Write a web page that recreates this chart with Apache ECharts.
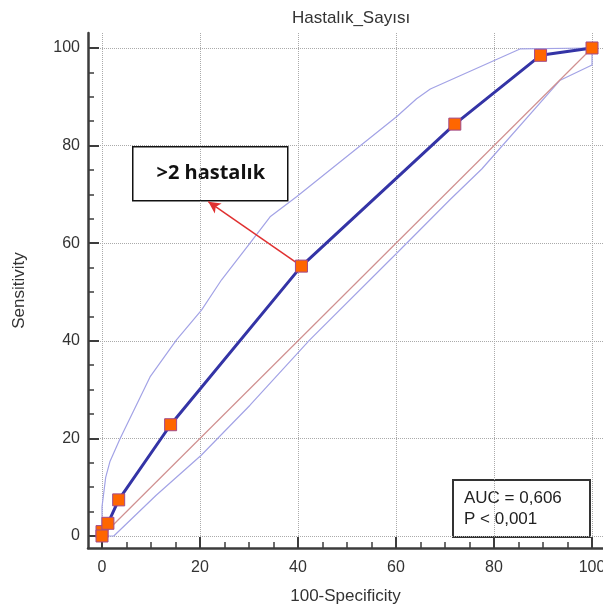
<!DOCTYPE html>
<html lang="tr">
<head>
    <meta charset="UTF-8">
    <title>Hastalık_Sayısı ROC</title>
    <script src="https://cdn.jsdelivr.net/npm/echarts@6/dist/echarts.min.js"></script>
    <style>
        html, body { margin: 0; padding: 0; background: #fff; }
    </style>
</head>
<body>
<div id="main" style="width: 603px;height:610px;"></div>
<script type="text/javascript">
    // ROC noktalari [100-Specificity, Sensitivity]
    var rocPoints = [[0, 0.9], [0, 0], [1.2, 2.6], [3.4, 7.4], [14, 22.8], [40.7, 55.3], [72, 84.4], [89.5, 98.5], [100, 100]];
    // %95 guven araligi sinirlari
    var upperBound = [[0, 0], [0, 6], [0.75, 12], [1.6, 15.2], [3.7, 20], [9.8, 32.6], [15.2, 40.2], [20.3, 46.3], [24.4, 52.5],
        [30.2, 60], [34.3, 65.4], [39.7, 69.5], [60.1, 85.9], [64.2, 89.6], [67, 91.6], [85.3, 99.8], [100, 100]];
    var lowerBound = [[0, 0], [2.4, 0], [11, 8.3], [20.3, 16.6], [30.2, 26.8], [42.4, 40.2], [60.8, 58.6], [71, 68.9],
        [77.5, 75.2], [93.5, 93.4], [100, 96.5], [100, 100]];
    var diagonal = [[0, 0], [100, 100]];
    var majorTicks = [0, 20, 40, 60, 80, 100];
    var minorTicks = [0, 5, 10, 15, 20, 25, 30, 35, 40, 45, 50, 55, 60, 65, 70, 75, 80, 85, 90, 95, 100];
    var labelText = '>2 hastalık';
    var arrowFrom = [40.7, 55.3];
    var arrowTo = [21.7, 68.5];
    var aucLines = ['AUC = 0,606', 'P < 0,001'];

    var font = 'Liberation Sans, Arial, sans-serif';
    var chartDom = document.getElementById('main');
    var myChart = echarts.init(chartDom, null, {renderer: 'canvas'});
    var option;

    function majorAxis(name, isX) {
        return {
            type: 'value',
            min: isX ? -2.86 : -2.46,
            max: isX ? 102.24 : 103.07,
            position: isX ? 'bottom' : 'left',
            name: name,
            nameLocation: 'middle',
            nameGap: isX ? 40 : 60,
            nameTextStyle: {fontFamily: font, fontSize: 17, color: '#333'},
            axisLine: {show: true, onZero: false, lineStyle: {color: '#3c3c3c', width: 2.5}},
            axisTick: {show: true, inside: true, length: 11, customValues: majorTicks, lineStyle: {color: '#3c3c3c', width: 2}},
            axisLabel: {customValues: majorTicks, fontFamily: font, fontSize: 16, color: '#333', margin: isX ? 12 : 8},
            splitLine: {show: true, lineStyle: {type: 'dotted', color: '#aaa', width: 1}}
        };
    }
    function minorAxis(isX) {
        return {
            type: 'value',
            min: isX ? -2.86 : -2.46,
            max: isX ? 102.24 : 103.07,
            position: isX ? 'bottom' : 'left',
            offset: 0,
            axisLine: {show: false, onZero: false},
            axisTick: {show: true, inside: true, length: 6, customValues: minorTicks, lineStyle: {color: '#3c3c3c', width: 1.5}},
            axisLabel: {show: false},
            splitLine: {show: false}
        };
    }

    option = {
        animation: false,
        backgroundColor: '#fff',
        title: {
            text: 'Hastalık_Sayısı',
            left: 287,
            top: 5,
            textStyle: {fontFamily: font, fontSize: 17, fontWeight: 'normal', color: '#333'}
        },
        grid: {left: 88, right: 0, top: 33, bottom: 62, outerBoundsMode: 'none'},
        xAxis: [majorAxis('100-Specificity', true), minorAxis(true)],
        yAxis: [majorAxis('Sensitivity', false), minorAxis(false)],
        series: [
            {
                type: 'line',
                data: upperBound,
                symbol: 'none',
                lineStyle: {color: '#a3a3e6', width: 1.2},
                z: 2
            },
            {
                type: 'line',
                data: lowerBound,
                symbol: 'none',
                lineStyle: {color: '#a3a3e6', width: 1.2},
                z: 2
            },
            {
                type: 'line',
                data: diagonal,
                symbol: 'none',
                lineStyle: {color: '#d09090', width: 1.2},
                z: 2
            },
            {
                type: 'line',
                data: rocPoints,
                symbol: 'rect',
                symbolSize: 12,
                showAllSymbol: true,
                lineStyle: {color: '#3434a6', width: 3},
                itemStyle: {color: '#ff6600', borderColor: '#a04a8c', borderWidth: 1},
                z: 5,
                markLine: {
                    silent: true,
                    symbol: ['none', 'arrow'],
                    symbolSize: [9, 12],
                    label: {show: false},
                    lineStyle: {color: '#e03030', width: 1.5, type: 'solid'},
                    data: [[{coord: arrowFrom}, {coord: arrowTo}]]
                }
            }
        ],
        graphic: [
            {
                type: 'group',
                left: 132,
                top: 146,
                children: [
                    {type: 'rect', shape: {x: 0, y: 0, width: 155, height: 54},
                        style: {fill: '#fff', stroke: '#111', lineWidth: 1.5}},
                    {type: 'text', x: 78, y: 27,
                        style: {text: labelText, fill: '#111', font: 'bold 20px "Open Sans", "Noto Sans", sans-serif',
                            textAlign: 'center', textVerticalAlign: 'middle'}}
                ]
            },
            {
                type: 'group',
                left: 452,
                top: 479,
                children: [
                    {type: 'rect', shape: {x: 0, y: 0, width: 137, height: 57},
                        style: {fill: '#fff', stroke: '#333', lineWidth: 2}},
                    {type: 'text', x: 11, y: 18,
                        style: {text: aucLines[0], fill: '#222', font: '17px ' + font, textVerticalAlign: 'middle'}},
                    {type: 'text', x: 11, y: 39,
                        style: {text: aucLines[1], fill: '#222', font: '17px ' + font, textVerticalAlign: 'middle'}}
                ]
            }
        ]
    };

    option && myChart.setOption(option);
    window.addEventListener("resize", function () {
        myChart.resize();
    });
</script>
</body>
</html>
